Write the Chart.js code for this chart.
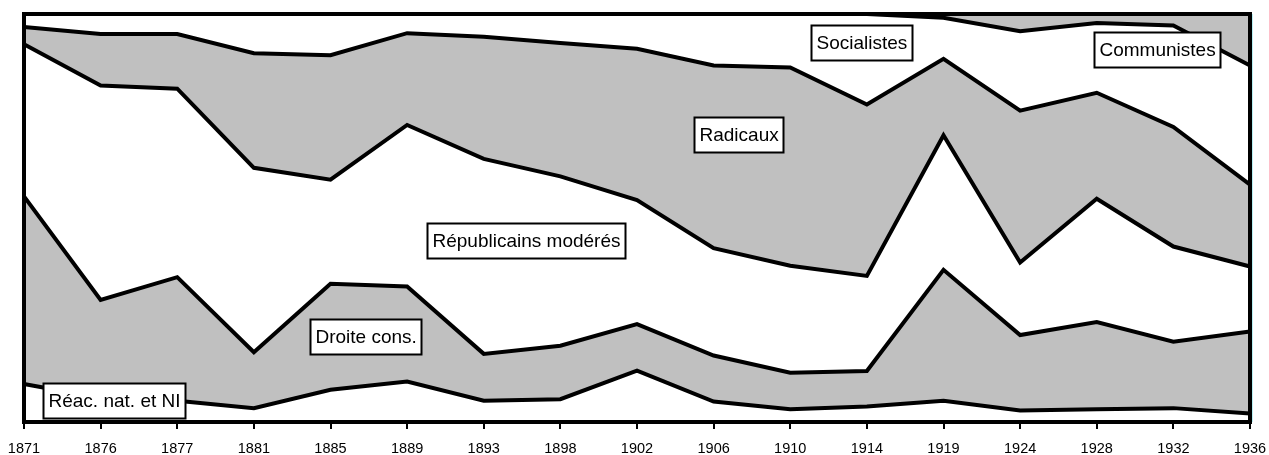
<!DOCTYPE html>
<html>
<head>
<meta charset="utf-8">
<script src="https://cdn.jsdelivr.net/npm/chart.js@4"></script>
<style>
  html, body { margin: 0; padding: 0; background: #fff; }
  #wrap { width: 1269px; height: 455px; }
</style>
</head>
<body>
<div id="wrap"><canvas id="myChart" width="1269" height="455"></canvas></div>
<script>
// élections législatives, part des sièges (%)
var years = ["1871", "1876", "1877", "1881", "1885", "1889", "1893", "1898", "1902",
             "1906", "1910", "1914", "1919", "1924", "1928", "1932", "1936"];
var reacNat     = [9.3, 5.9, 5.2, 3.4, 7.9, 9.9, 5.2, 5.6, 12.6, 5.0, 3.1, 3.8, 5.2, 2.8, 3.1, 3.4, 2.1];
var droiteCons  = [46.0, 24.0, 30.3, 13.7, 26.0, 23.3, 11.5, 13.1, 11.4, 11.3, 9.0, 8.7, 32.1, 18.5, 21.4, 16.3, 20.1];
var repModeres  = [37.3, 52.6, 46.2, 45.2, 25.5, 39.6, 47.8, 41.5, 30.4, 26.3, 26.2, 23.3, 33.0, 17.8, 30.2, 23.3, 15.9];
var radicaux    = [4.2, 12.6, 13.4, 28.1, 30.5, 22.5, 29.9, 32.7, 37.1, 44.8, 48.6, 42.0, 18.7, 37.2, 26.0, 29.3, 20.1];
var socialistes = [3.2, 4.9, 4.9, 9.6, 10.1, 4.7, 5.6, 7.1, 8.5, 12.6, 13.1, 22.2, 10.1, 19.5, 17.1, 24.9, 29.2];
var communistes = [0, 0, 0, 0, 0, 0, 0, 0, 0, 0, 0, 0, 0.9, 4.2, 2.2, 2.8, 12.6];

// étiquettes encadrées : coin haut-gauche en (indice d'année, valeur cumulée)
var boxLabels = [
  { text: "Réac. nat. et NI",     at: 0.25,  top: 9.6 },
  { text: "Droite cons.",         at: 3.73,  top: 25.3 },
  { text: "Républicains modérés", at: 5.26,  top: 48.8 },
  { text: "Radicaux",             at: 8.74,  top: 74.8 },
  { text: "Socialistes",          at: 10.27, top: 97.2 },
  { text: "Communistes",          at: 13.96, top: 95.5 }
];

var GRAY = '#c0c0c0';
var FONT = '"Liberation Sans", Arial, sans-serif';

function layer(label, data, color, fill) {
  return {
    label: label,
    data: data,
    backgroundColor: color,
    borderColor: '#000',
    borderWidth: 4,
    pointRadius: 0,
    tension: 0,
    fill: fill
  };
}

var framePlugin = {
  id: 'frame',
  afterDatasetsDraw: function(chart) {
    var a = chart.chartArea, ctx = chart.ctx;
    ctx.save();
    ctx.strokeStyle = '#000';
    ctx.lineWidth = 4;
    ctx.strokeRect(a.left, a.top, a.right - a.left, a.bottom - a.top);
    ctx.strokeStyle = '#b8f0f4';
    ctx.lineWidth = 1;
    ctx.beginPath();
    ctx.moveTo(a.right + 2.5, a.top);
    ctx.lineTo(a.right + 2.5, a.bottom);
    ctx.stroke();
    ctx.restore();
  },
  afterDraw: function(chart) {
    var ctx = chart.ctx, xs = chart.scales.x, ys = chart.scales.y;
    ctx.save();
    ctx.font = '19px ' + FONT;
    ctx.textBaseline = 'middle';
    boxLabels.forEach(function(b) {
      var x = Math.round(xs.getPixelForValue(b.at)) + 0.5;
      var y = Math.round(ys.getPixelForValue(b.top)) + 0.5;
      var w = Math.round(ctx.measureText(b.text).width) + 10;
      var h = 35;
      ctx.fillStyle = '#fff';
      ctx.fillRect(x, y, w, h);
      ctx.strokeStyle = '#000';
      ctx.lineWidth = 2;
      ctx.strokeRect(x, y, w, h);
      ctx.fillStyle = '#000';
      ctx.fillText(b.text, x + 5, y + h / 2 + 1);
    });
    ctx.restore();
  }
};

new Chart('myChart', {
  type: 'line',
  data: {
    labels: years,
    datasets: [
      layer("Réac. nat. et NI", reacNat, '#fff', 'origin'),
      layer("Droite cons.", droiteCons, GRAY, '-1'),
      layer("Républicains modérés", repModeres, '#fff', '-1'),
      layer("Radicaux", radicaux, GRAY, '-1'),
      layer("Socialistes", socialistes, '#fff', '-1'),
      layer("Communistes", communistes, GRAY, '-1')
    ]
  },
  options: {
    responsive: false,
    animation: false,
    layout: { padding: { left: 24, right: 19, top: 14, bottom: 0 } },
    plugins: { legend: { display: false }, tooltip: { enabled: false } },
    scales: {
      x: {
        offset: false,
        afterFit: function(scale) {
          scale.height = 33;
          scale.paddingLeft = 0;
          scale.paddingRight = 0;
        },
        grid: { drawOnChartArea: false, drawTicks: true, tickLength: 7, color: '#000', lineWidth: 2 },
        border: { display: true, color: '#000', width: 4 },
        ticks: { color: '#000', font: { family: FONT, size: 14.5 }, padding: 11, maxRotation: 0, autoSkip: false }
      },
      y: {
        display: false,
        stacked: true,
        min: 0,
        max: 100
      }
    }
  },
  plugins: [framePlugin]
});
</script>
</body>
</html>
